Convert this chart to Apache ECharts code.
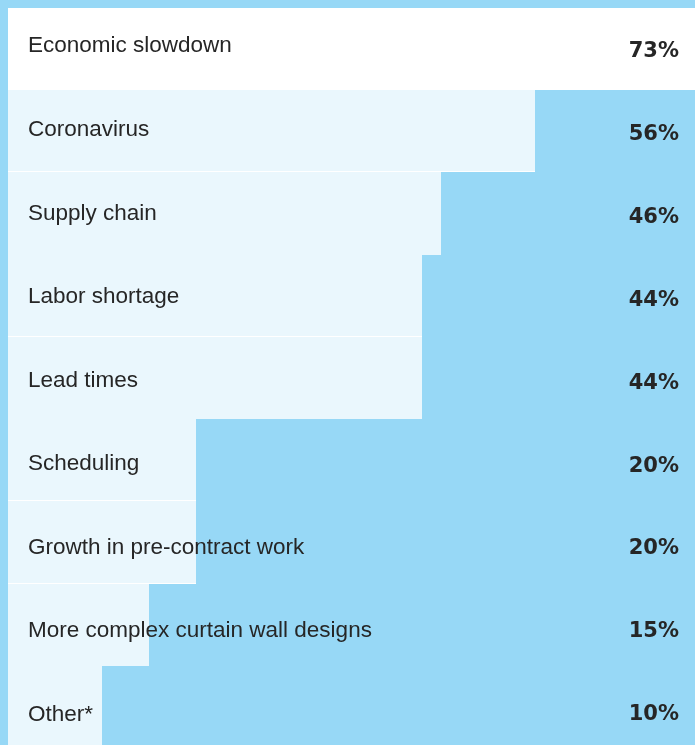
<!DOCTYPE html>
<html>
<head>
<meta charset="utf-8">
<script src="https://cdn.jsdelivr.net/npm/echarts@6/dist/echarts.min.js"></script>
<style>
html,body{margin:0;padding:0;background:#97d8f6;}
#chart{width:695px;height:745px;}
</style>
</head>
<body>
<div id="chart"></div>
<script>
const categories = [
  'Economic slowdown',
  'Coronavirus',
  'Supply chain',
  'Labor shortage',
  'Lead times',
  'Scheduling',
  'Growth in pre-contract work',
  'More complex curtain wall designs',
  'Other*'
];
const values = [73, 56, 46, 44, 44, 20, 20, 15, 10];
const valueLabels = values.map(v => v + '%');
const dividerBelow = [false, true, false, true, false, true, true, false, false];

const BG = '#97d8f6';
const LIGHT = '#eaf7fd';

const chart = echarts.init(document.getElementById('chart'), null, {renderer: 'canvas'});

function renderBar(params, api) {
  const v = api.value(0);
  const idx = api.value(1);
  const start = api.coord([0, idx]);
  const end = api.coord([v, idx]);
  const h = api.size([0, 1])[1];
  const x0 = Math.round(start[0]);
  const x1 = Math.round(end[0]);
  const y0 = Math.round(start[1] - h / 2);
  const y1 = Math.round(start[1] + h / 2);
  const children = [{
    type: 'rect',
    shape: {x: x0, y: y0, width: x1 - x0, height: y1 - y0},
    style: {fill: idx === 0 ? '#ffffff' : LIGHT}
  }];
  if (dividerBelow[idx]) {
    children.push({
      type: 'rect',
      shape: {x: x0, y: y1 - 1, width: x1 - x0, height: 1},
      style: {fill: '#ffffff'}
    });
  }
  return {type: 'group', children: children};
}

chart.setOption({
  backgroundColor: BG,
  animation: false,
  grid: [
    {left: 8, right: 0, top: 8, height: 740, outerBoundsMode: 'none', containLabel: false},
    {left: 8, right: 0, top: 4.5, height: 751.7, outerBoundsMode: 'none', containLabel: false},
    {left: 8, right: 0, top: 10.6, height: 745.4, outerBoundsMode: 'none', containLabel: false}
  ],
  xAxis: [
    {gridIndex: 0, type: 'value', min: 0, max: 73, show: false},
    {gridIndex: 1, type: 'value', min: 0, max: 1, show: false},
    {gridIndex: 2, type: 'value', min: 0, max: 1, show: false}
  ],
  yAxis: [
    {gridIndex: 0, type: 'category', inverse: true, data: categories, show: false},
    {
      gridIndex: 1, type: 'category', inverse: true, data: categories, z: 10,
      axisLine: {show: false}, axisTick: {show: false}, splitLine: {show: false},
      axisLabel: {
        inside: true, margin: 20, fontSize: 22.5, color: '#262626',
        fontFamily: '"Liberation Sans", Arial, sans-serif'
      }
    },
    {
      gridIndex: 2, type: 'category', inverse: true, position: 'right', data: valueLabels, z: 10,
      axisLine: {show: false}, axisTick: {show: false}, splitLine: {show: false},
      axisLabel: {
        inside: true, margin: 16, fontSize: 21, fontWeight: 'bold', color: '#262626',
        fontFamily: '"DejaVu Sans", sans-serif'
      }
    }
  ],
  series: [{
    type: 'custom',
    xAxisIndex: 0,
    yAxisIndex: 0,
    renderItem: renderBar,
    encode: {x: 0, y: 1},
    data: values.map((v, i) => [v, i]),
    silent: true
  }]
});
</script>
</body>
</html>
